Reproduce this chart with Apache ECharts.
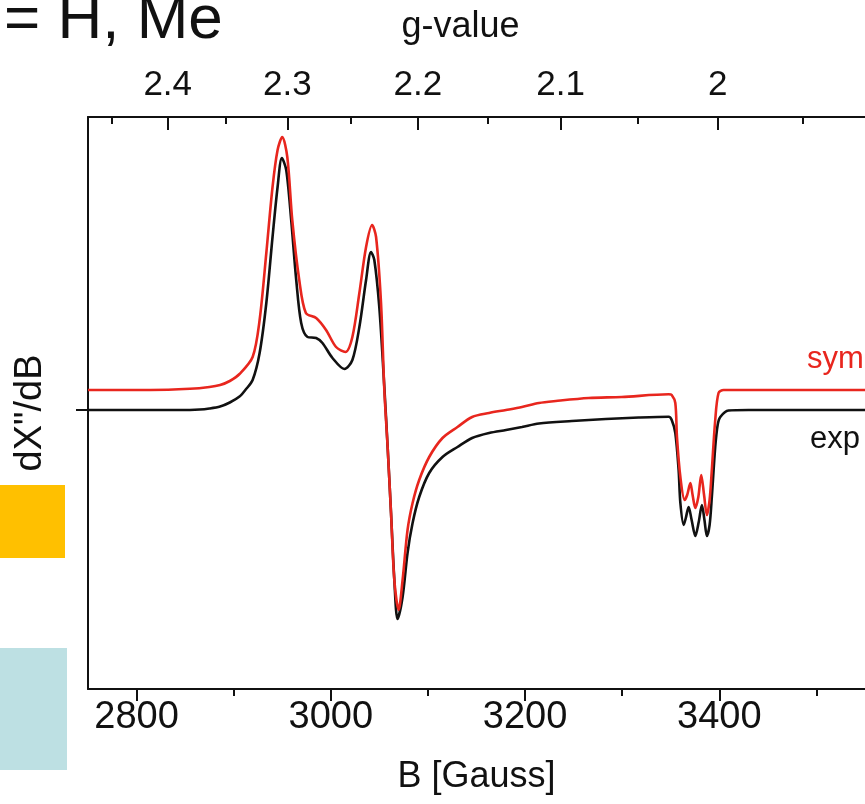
<!DOCTYPE html>
<html>
<head>
<meta charset="utf-8">
<style>
  html, body { margin: 0; padding: 0; background: #fff; }
  #chart { width: 865px; height: 804px; }
</style>
<script src="https://cdn.jsdelivr.net/npm/echarts@6/dist/echarts.min.js"></script>
</head>
<body>
<div id="chart"></div>
<script>
// X-band EPR spectrum: experimental trace and offset simulation.

// Field positions (gauss) and derivative signal of the experimental trace
const expField = [
  2750, 2783, 2814, 2845, 2865, 2875, 2886, 2896, 2906, 2912, 2919.5,
  2926.7, 2933.6, 2940, 2945.2, 2949.6, 2954.1, 2959.2, 2964.4, 2969.5, 2976,
  2984.9, 2991.4, 3001.7, 3014, 3022.2, 3029.4, 3036.3, 3041.4, 3044.8, 3049.9,
  3055.1, 3058.5, 3062, 3065.4, 3068.7, 3073.9, 3079, 3084.2, 3091, 3101.3,
  3115, 3130.4, 3145.5, 3163, 3180.4, 3196.8, 3214.3, 3248.2, 3283.1, 3317,
  3347.9, 3351, 3354.7, 3358.1, 3359.9, 3363.3, 3365.5, 3368.4, 3371.5, 3375.3,
  3378.8, 3382.1, 3384.7, 3387.2, 3390, 3392.3, 3395.8, 3398.3, 3401, 3409.5,
  3430, 3481, 3550
];
const expSignal = [
  0, 0, 0, 0, 0.05, 0.15, 0.35, 0.75, 1.35, 2.0, 3.0,
  5.7, 10.7, 17.3, 22.3, 25.2, 24.0, 19.0, 13.0, 8.7, 7.3,
  7.2, 6.7, 5.2, 4.1, 5.0, 8.3, 13.0, 15.8, 15.0, 10.3,
  2.3, -3.7, -10.3, -17.0, -20.9, -18.7, -14.3, -11.3, -8.7, -6.3,
  -4.7, -3.7, -2.8, -2.3, -2.0, -1.7, -1.35, -1.1, -0.9, -0.75,
  -0.67, -1.0, -2.3, -6.0, -9.3, -11.5, -10.8, -9.7, -11.0, -12.6,
  -11.2, -9.5, -11.0, -12.6, -11.5, -8.7, -3.7, -1.5, -0.7, -0.05,
  0, 0, 0
];

// Simulated trace, drawn with a vertical offset above the experiment
const symField = [
  2750, 2814, 2855, 2875, 2886, 2896, 2906, 2919.5, 2926.7, 2933.6,
  2940, 2945.2, 2950, 2955.2, 2960.3, 2967.5, 2974.3, 2984.9, 2995.1, 3005.4,
  3015.1, 3022.2, 3029.4, 3036.3, 3042.5, 3046.6, 3051.7, 3055.1, 3058.5, 3062,
  3065.4, 3069.8, 3073.9, 3079, 3084.2, 3091, 3101.3, 3115, 3130.4, 3145.5,
  3163, 3180.4, 3196.8, 3214.3, 3231.7, 3265.6, 3299.5, 3347.9, 3351, 3354.7,
  3356.4, 3359.9, 3364.3, 3366.9, 3370.2, 3372.5, 3375.3, 3378.4, 3381.4, 3384.3,
  3387.2, 3390, 3392.3, 3395.8, 3399.2, 3404.4, 3430, 3481, 3550
];
const symSignal = [
  2.0, 2.0, 2.12, 2.3, 2.5, 2.9, 3.6, 5.3, 9.0, 15.7,
  22.3, 26.0, 27.3, 25.3, 19.0, 13.0, 9.7, 9.2, 8.0, 6.3,
  5.8, 7.3, 11.7, 16.3, 18.5, 17.3, 10.7, 2.0, -3.7, -10.3,
  -17.0, -20.0, -17.0, -12.0, -9.3, -7.0, -4.7, -2.8, -1.7, -0.7,
  -0.3, 0, 0.3, 0.7, 0.9, 1.2, 1.3, 1.57, 1.5, 0.7,
  -2.7, -6.7, -9.0, -8.5, -7.3, -8.5, -9.8, -8.7, -6.5, -8.5,
  -10.5, -9.0, -6.0, -1.0, 1.7, 2.0, 2.0, 2.0, 2.0
];

// Axis ticks
const fieldMajor = [2800, 3000, 3200, 3400];
const fieldMinor = [2900, 3100, 3300, 3500];
const gMajor = [2.4, 2.3, 2.2, 2.1, 2.0];
const gMinor = [2.45, 2.35, 2.25, 2.15, 2.05, 1.95];

// Resonance condition B = h*nu / (g*muB); h*nu/muB in gauss at ~9.51 GHz
const HNU_OVER_MUB = 6797;
const gToField = g => HNU_OVER_MUB / g;

const FONT = '"Liberation Sans", Arial, Helvetica, sans-serif';
const FIELD_MIN = 2750, FIELD_MAX = 3550;
const INK = '#111';

const zip = (xs, ys) => xs.map((x, i) => [x, ys[i]]);

const chart = echarts.init(document.getElementById('chart'), null, { renderer: 'canvas' });

const baseX = {
  type: 'value', min: FIELD_MIN, max: FIELD_MAX, splitLine: { show: false },
  axisLine: { show: false, onZero: false }, axisLabel: { show: false }, axisTick: { show: false }
};
const tickLine = { color: INK, width: 2 };

chart.setOption({
  animation: false,
  backgroundColor: '#fff',
  grid: { left: 88, top: 117, width: 779, height: 572 },
  xAxis: [
    Object.assign({}, baseX, {
      position: 'bottom',
      axisLine: { show: true, onZero: false, lineStyle: { color: INK, width: 2 } },
      axisTick: { show: true, customValues: fieldMajor, length: 12, lineStyle: tickLine },
      axisLabel: {
        show: true, customValues: fieldMajor, margin: 10, fontSize: 38,
        fontFamily: FONT, color: INK, formatter: v => String(v)
      },
      name: 'B [Gauss]', nameLocation: 'middle', nameGap: 70,
      nameTextStyle: { fontSize: 36, fontFamily: FONT, color: INK }
    }),
    Object.assign({}, baseX, {
      position: 'bottom',
      axisTick: { show: true, customValues: fieldMinor, length: 7, lineStyle: tickLine }
    }),
    Object.assign({}, baseX, {
      position: 'top',
      axisLine: { show: true, onZero: false, lineStyle: { color: INK, width: 2 } },
      axisTick: { show: true, inside: true, customValues: gMajor.map(gToField), length: 13, lineStyle: tickLine },
      axisLabel: {
        show: true, customValues: gMajor.map(gToField), margin: 14,
        fontSize: 35, fontFamily: FONT, color: INK,
        formatter: v => String(Math.round(HNU_OVER_MUB / v * 10) / 10)
      },
      name: 'g-value', nameLocation: 'middle', nameGap: 72,
      nameTextStyle: { fontSize: 36, fontFamily: FONT, color: INK, padding: [0, 32, 0, 0] }
    }),
    Object.assign({}, baseX, {
      position: 'top',
      axisTick: { show: true, inside: true, customValues: gMinor.map(gToField), length: 7, lineStyle: tickLine }
    })
  ],
  yAxis: {
    type: 'value', min: -27.9, max: 29.3,
    splitLine: { show: false },
    axisLine: { show: true, onZero: false, lineStyle: { color: INK, width: 2 } },
    axisTick: { show: true, customValues: [0], length: 12, lineStyle: tickLine },
    axisLabel: { show: false },
    name: 'dX"/dB', nameLocation: 'middle', nameGap: 38, nameRotate: 90,
    nameTextStyle: { fontSize: 38, fontFamily: FONT, color: INK, padding: [0, 20, 0, 0] }
  },
  series: [
    {
      name: 'exp', type: 'line', xAxisIndex: 0, showSymbol: false,
      smooth: 0.3,
      data: zip(expField, expSignal),
      lineStyle: { color: INK, width: 2.6 }
    },
    {
      name: 'sym', type: 'line', xAxisIndex: 0, showSymbol: false,
      smooth: 0.3,
      data: zip(symField, symSignal),
      lineStyle: { color: '#e8261e', width: 2.6 }
    }
  ],
  graphic: [
    { type: 'text', x: 4, y: -10, style: { text: '= H, Me', font: '62px ' + FONT, fill: INK } },
    { type: 'rect', shape: { x: 0, y: 485, width: 65, height: 73 }, style: { fill: '#ffc000' } },
    { type: 'rect', shape: { x: 0, y: 648, width: 67, height: 122 }, style: { fill: '#bde0e3' } },
    { type: 'text', x: 807, y: 344, style: { text: 'sym', font: '31px ' + FONT, fill: '#e8261e' } },
    { type: 'text', x: 810, y: 424, style: { text: 'exp', font: '31px ' + FONT, fill: INK } }
  ]
});
</script>
</body>
</html>
